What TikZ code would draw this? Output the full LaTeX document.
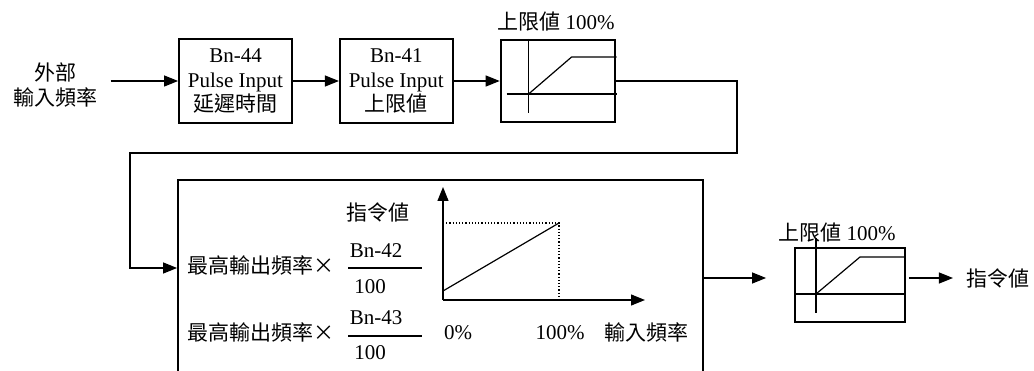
\documentclass[tikz,border=0pt]{standalone}
\usepackage{fontspec}
\setmainfont{Liberation Serif}
\newfontfamily\cjk{Noto Sans CJK TC}
\usetikzlibrary{arrows.meta,positioning}

\begin{document}
\begin{tikzpicture}[x=1pt,y=-1pt,
  font=\fontsize{21}{24.5}\selectfont,
  bloque/.style={draw,line width=1.8pt,minimum width=113pt,minimum height=84pt,inner sep=0pt,align=center},
  limite/.style={draw,line width=1.8pt,inner sep=0pt},
  arr/.style={-{Triangle[length=14pt,width=11pt]},line width=1.2pt},
  eje/.style={line width=1.2pt}]
\clip (0,0) rectangle (1034,371);
\fill[white] (0,0) rectangle (1034,371);
% fila superior
\node[align=center,font=\fontsize{21}{25}\cjk] (ext) at (55,85) {外部\\輸入頻率};
\node[bloque] (b44) at (235.5,81) {Bn-44\\Pulse Input\\{\cjk 延遲時間}};
\node[bloque,right=46pt of b44] (b41) {Bn-41\\Pulse Input\\{\cjk 上限値}};
\node[limite,minimum width=114pt,minimum height=82pt,right=46pt of b41] (lim1) {};
\node[inner sep=0pt] (tope1) at (556,22) {{\cjk 上限値} 100\%};
\begin{scope}[shift={(lim1.center)}]
  \draw[eje] (-29,-42) -- (-29,32);
  \draw[eje] (-51,13) -- (59,13);
  \draw[eje] (-29,13) -- (14,-24) -- (59,-24);
\end{scope}
\draw[arr,shorten <=10pt] (ext.east |- b44.west) -- (b44.west);
\draw[arr] (b44) -- (b41);
\draw[arr] (b41) -- (lim1);
% bloque central
\node[draw,line width=1.8pt,minimum width=525pt,minimum height=220pt,inner sep=0pt] (panel) at (440.5,290) {};
\coordinate (codo) at (737,153);
\coordinate (vuelta) at (130,268);
\draw[arr] (lim1.east) -| (codo) -| (vuelta) -- (vuelta -| panel.west);
\node (ordenada) at (378,212) {\cjk 指令値};
\node[anchor=west,inner sep=0pt] (max1) at (187,266) {\cjk 最高輸出頻率×};
\node (bn42) at (376,251) {Bn-42};
\draw[eje] (348,268) -- (422,268);
\node (cien1) at (370,287) {100};
\node[anchor=west,inner sep=0pt] (max2) at (187,333) {\cjk 最高輸出頻率×};
\node (bn43) at (376,318) {Bn-43};
\draw[eje] (348,336) -- (422,336);
\node (cien2) at (370,353) {100};
% grafico
\coordinate (origen) at (443,300);
\draw[arr] (origen) -- (443,187);
\draw[arr] (origen) -- (645,300);
\draw[eje] (443,291) -- (559,223);
\draw[dotted,line width=1.2pt] (443,223) -- (559,223) -- (559,300);
\node (cero) at (458,333) {0\%};
\node (cien) at (560,333) {100\%};
\node (frec) at (646,333) {\cjk 輸入頻率};
% salida
\node[limite,minimum width=110pt,minimum height=74pt] (lim2) at (850,285) {};
\node[inner sep=0pt] (tope2) at (837,233) {{\cjk 上限値} 100\%};
\begin{scope}[shift={(lim2.center)}]
  \draw[eje] (-34,-47) -- (-34,28);
  \draw[eje] (-56,9) -- (55,9);
  \draw[eje] (-34,9) -- (10,-28) -- (55,-28);
\end{scope}
\node (salida) at (998,278) {\cjk 指令値};
\draw[arr,shorten >=28pt] (panel.east |- salida) -- (lim2.west |- salida);
\draw[arr,shorten <=3pt,shorten >=10pt] (lim2.east |- salida) -- (salida.west);
\end{tikzpicture}
\end{document}
